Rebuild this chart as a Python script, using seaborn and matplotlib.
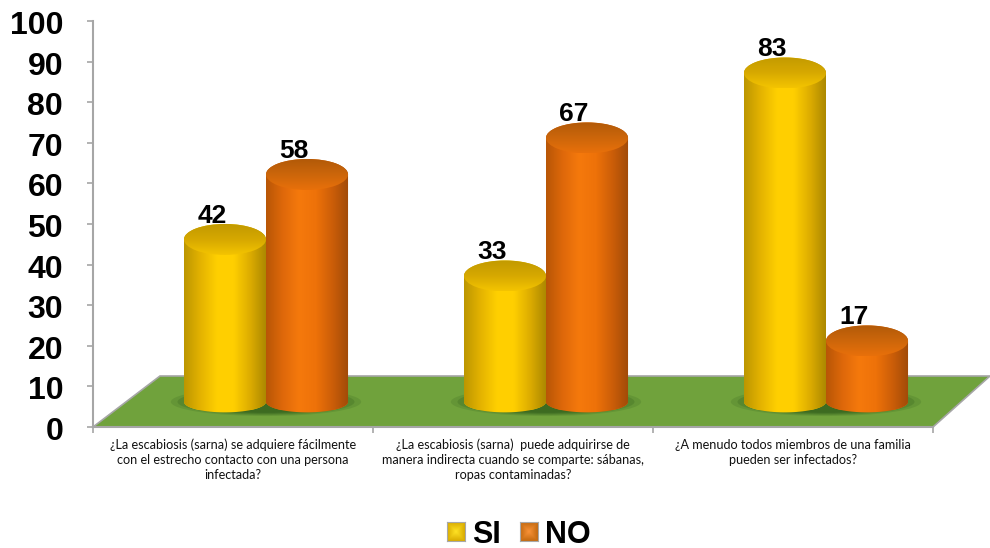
import numpy as np
import pandas as pd
import matplotlib
matplotlib.use("Agg")
import matplotlib.pyplot as plt
import seaborn as sns
from matplotlib.colors import LinearSegmentedColormap as LSC
from matplotlib.patches import Ellipse, Polygon
from matplotlib.path import Path
from matplotlib.transforms import ScaledTranslation

questions = [
    "¿La escabiosis (sarna) se adquiere fácilmente\ncon el estrecho contacto con una persona\ninfectada?",
    "¿La escabiosis (sarna)  puede adquirirse de\nmanera indirecta cuando se comparte: sábanas,\nropas contaminadas?",
    "¿A menudo todos miembros de una familia\npueden ser infectados?",
]
si_values = [42, 33, 83]
no_values = [58, 67, 17]
series_names = ["SI", "NO"]
y_ticks = list(range(0, 101, 10))

sns.set_style("white")
plt.rcParams["font.family"] = ["Liberation Sans", "DejaVu Sans"]
plt.rcParams["text.color"] = "black"
plt.rcParams["ytick.labelcolor"] = "black"

W, H = 990, 548
PX_X, PX_Y = 840 / 3, 406 / 100  # pixels per category / per y unit
BASE = 4.2
SHIFT = 33 / PX_X
RY = 15.5 / PX_Y

df = pd.DataFrame({
    "q": questions * 2,
    "resp": [series_names[0]] * 3 + [series_names[1]] * 3,
    "v": si_values + no_values,
})

fig = plt.figure(figsize=(W / 100, H / 100), dpi=100, facecolor="white")
ax = fig.add_axes([93 / W, 1 - 427 / H, 840 / W, 406 / H])
ax.set_facecolor("none")
sns.barplot(data=df, x="q", y="v", hue="resp", hue_order=series_names,
            palette={"SI": "#F5C400", "NO": "#EE7008"}, width=0.586, gap=0,
            ax=ax, saturation=1, errorbar=None, linewidth=0)
ax.set_xlim(-0.5, 2.5)
ax.set_ylim(0, 100)
ax.set_autoscale_on(False)
ax.set_xlabel("")
ax.set_ylabel("")

# axes styling
sns.despine(ax=ax)
for s in ("left", "bottom"):
    ax.spines[s].set_color("#A6A6A6")
    ax.spines[s].set_linewidth(1.5)
ax.set_xticks([-0.5, 0.5, 1.5, 2.5], labels=[])
ax.set_xticks([0, 1, 2], labels=questions, minor=True)
ax.tick_params(axis="x", which="major", length=4, width=1.2, color="#A6A6A6", bottom=True)
ax.tick_params(axis="x", which="minor", length=0, pad=8.5, labelsize=9.1, labelcolor="#111111", bottom=True)
for t in ax.get_xticklabels(minor=True):
    t.set_family("Lato")
    t.set_linespacing(1.28)
ax.set_yticks(y_ticks)
ax.tick_params(axis="y", length=4.5, width=1.2, color="#A6A6A6", left=True, pad=17, labelsize=23)
down = ScaledTranslation(0, -1.5 / 100, fig.dpi_scale_trans)
for t in ax.get_yticklabels():
    t.set_fontweight("bold")
    t.set_color("black")
    t.set_transform(t.get_transform() + down)

# floor
floor = Polygon([(0, 0), (67 / 840, 51 / 406), (897 / 840, 51 / 406), (840 / 840, 0)],
                closed=True, transform=ax.transAxes, facecolor="#70A23C",
                edgecolor="#A6A6A6", linewidth=1.2, clip_on=False, zorder=0.5)
ax.add_patch(floor)

styles = {
    "SI": dict(body=["#BC9600", "#E4B300", "#FFD000", "#FFCF00", "#DCAC00", "#A98600"],
               cap=["#C29A00", "#D6A800", "#F4C400"]),
    "NO": dict(body=["#B85606", "#DE680A", "#F5790C", "#EE7209", "#CC5E08", "#A04A08"],
               cap=["#B25A08", "#CC660B", "#E8700A"]),
}

for name, cont, vals, z in zip(series_names, ax.containers, (si_values, no_values), (2, 3)):
    body = LSC.from_list("b" + name, styles[name]["body"])
    cap = LSC.from_list("c" + name, styles[name]["cap"][::-1])
    for patch, v in zip(cont.patches, vals):
        patch.set_x(patch.get_x() + SHIFT)
        patch.set_y(BASE)
        x0, w = patch.get_x(), patch.get_width()
        xc = x0 + w / 2
        top = BASE + v
        patch.set_zorder(z)
        # ground shadow
        if name == "SI":
            for k, a in zip((1.0, 0.93, 0.86, 0.78), (0.14, 0.18, 0.22, 0.28)):
                ax.add_patch(Ellipse((x0 + w, BASE + 2.0), 2 * w * 1.16 * k, 7.0 * k,
                                     facecolor="#1E4A12", alpha=a, linewidth=0, zorder=0.7))
        # cylinder silhouette
        t = np.linspace(0, np.pi, 40)
        low = BASE + 2.0
        xs = np.r_[xc - w / 2 * np.cos(t), xc + w / 2 * np.cos(t)]
        ys = np.r_[top + RY * np.sin(t), low - 2.6 * np.sin(t)]
        cyl = Path(np.c_[xs, ys])
        patch.set_clip_path(cyl, transform=ax.transData)
        im = ax.imshow(np.linspace(0, 1, 256)[None, :], cmap=body, aspect="auto",
                       extent=(x0, x0 + w, low - 3, top + RY), origin="lower", zorder=z + 0.1)
        im.set_clip_path(cyl, transform=ax.transData)
        # cap
        ell = Ellipse((xc, top), w, 2 * RY, facecolor="none", edgecolor="none",
                      transform=ax.transData)
        ax.add_patch(ell)
        im2 = ax.imshow(np.linspace(0, 1, 64)[:, None], cmap=cap, aspect="auto",
                        extent=(x0, x0 + w, top - RY, top + RY), origin="lower", zorder=z + 0.2)
        im2.set_clip_path(ell)
        # value label
        ax.text(xc - 13 / PX_X, top + 23.5 / PX_Y, str(v), ha="center", va="center",
                fontsize=19, fontweight="bold", color="black", zorder=10)

ax.set_xlim(-0.5, 2.5)
ax.set_ylim(0, 100)

# legend
sns.move_legend(ax, "lower left", bbox_to_anchor=(423 / W, 1 - 574 / H),
                bbox_transform=fig.transFigure, ncol=2, title=None, frameon=False,
                fontsize=22, handlelength=0.58, handleheight=0.56, handletextpad=0.23,
                columnspacing=0.62, borderpad=0.3, labelcolor="black")
leg = ax.get_legend()
for t in leg.get_texts():
    t.set_fontweight("bold")
fig.canvas.draw()

u, v = np.meshgrid(np.linspace(-1, 1, 40), np.linspace(-1, 1, 40))
ring = np.maximum(np.abs(u), np.abs(v))
for h, name, hi, lo in zip(leg.get_patches(), series_names,
                           ("#FFE225", "#F99238"), ("#D9AC00", "#C46A10")):
    bb = h.get_window_extent()
    iax = fig.add_axes([bb.x0 / W, bb.y0 / H, bb.width / W, bb.height / H], zorder=20)
    iax.imshow(ring, cmap=LSC.from_list("p" + name, [hi, lo]), aspect="auto", vmin=0, vmax=1)
    iax.set_xticks([])
    iax.set_yticks([])
    for s in iax.spines.values():
        s.set_color("#A8A8A8")
        s.set_linewidth(0.8)

fig.savefig("out.png", dpi=100)
